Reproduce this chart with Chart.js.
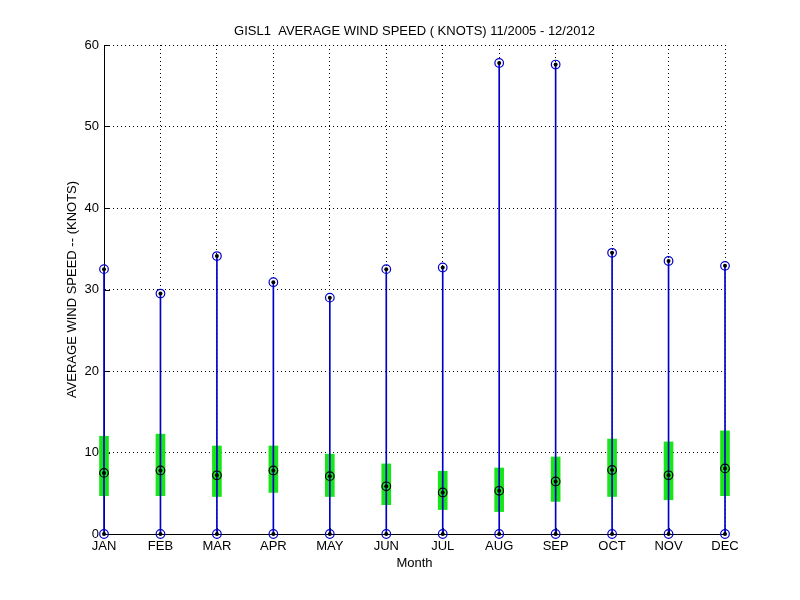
<!DOCTYPE html>
<html>
<head>
<meta charset="utf-8">
<script src="https://cdn.jsdelivr.net/npm/chart.js@4/dist/chart.umd.min.js"></script>
<style>
  body { margin: 0; background: #fff; }
  #wrap { width: 800px; height: 600px; }
</style>
</head>
<body>
<div id="wrap"><canvas id="windChart" width="800" height="600"></canvas></div>
<script>
// データ
const months = ['JAN', 'FEB', 'MAR', 'APR', 'MAY', 'JUN', 'JUL', 'AUG', 'SEP', 'OCT', 'NOV', 'DEC'];
const monthNums = [1, 2, 3, 4, 5, 6, 7, 8, 9, 10, 11, 12];
const maxSpeed = [32.5, 29.5, 34.1, 30.9, 29.0, 32.5, 32.7, 57.8, 57.6, 34.5, 33.5, 32.9];
const minSpeed = [0, 0, 0, 0, 0, 0, 0, 0, 0, 0, 0, 0];
const medianSpeed = [7.5, 7.8, 7.2, 7.8, 7.1, 5.85, 5.1, 5.3, 6.45, 7.85, 7.2, 8.05];
const boxLow = [4.7, 4.7, 4.6, 5.1, 4.6, 3.6, 3.0, 2.75, 4.0, 4.6, 4.2, 4.7];
const boxHigh = [12.0, 12.25, 10.8, 10.8, 9.8, 8.6, 7.7, 8.1, 9.45, 11.65, 11.3, 12.65];
const yTicks = [0, 10, 20, 30, 40, 50, 60];

const fontFamily = 'Arial, "Liberation Sans", sans-serif';
Chart.defaults.font.family = fontFamily;
Chart.defaults.font.size = 13;
Chart.defaults.color = '#000';

const pts = arr => monthNums.map((m, i) => ({x: m, y: arr[i]}));

// MATLAB風の内向き目盛り
const innerTicks = {
    id: 'innerTicks',
    beforeDatasetsDraw(chart) {
        const ctx = chart.ctx;
        const xs = chart.scales.x;
        const ys = chart.scales.y;
        const area = chart.chartArea;
        ctx.save();
        ctx.strokeStyle = '#000';
        ctx.lineWidth = 1;
        ctx.beginPath();
        yTicks.forEach(v => {
            const y = Math.round(ys.getPixelForValue(v)) + 0.5;
            ctx.moveTo(area.left, y);
            ctx.lineTo(area.left + 6, y);
        });
        monthNums.forEach(v => {
            const x = Math.round(xs.getPixelForValue(v)) + 0.5;
            ctx.moveTo(x, area.bottom);
            ctx.lineTo(x, area.bottom - 6);
        });
        ctx.stroke();
        ctx.restore();
    }
};

const ctx = document.getElementById('windChart').getContext('2d');

new Chart(ctx, {
    type: 'bar',
    data: {
        datasets: [
            {
                type: 'bar',
                data: monthNums.map((m, i) => ({x: m, y: [boxLow[i], boxHigh[i]]})),
                backgroundColor: '#19e619',
                barThickness: 9,
                grouped: false,
                clip: false,
                order: 5
            },
            {
                type: 'bar',
                data: monthNums.map((m, i) => ({x: m, y: [minSpeed[i], maxSpeed[i]]})),
                backgroundColor: '#0000c8',
                barThickness: 1,
                grouped: false,
                clip: false,
                order: 4
            },
            {
                type: 'scatter',
                data: pts(maxSpeed).concat(pts(minSpeed)),
                pointStyle: 'circle',
                pointRadius: 4.3,
                borderColor: '#0000c8',
                borderWidth: 1.2,
                backgroundColor: 'rgba(0,0,0,0)',
                clip: false,
                order: 3
            },
            {
                type: 'scatter',
                data: pts(medianSpeed),
                pointStyle: 'circle',
                pointRadius: 4.3,
                borderColor: '#000',
                borderWidth: 1.2,
                backgroundColor: 'rgba(0,0,0,0)',
                clip: false,
                order: 2
            },
            {
                type: 'scatter',
                data: pts(maxSpeed).concat(pts(minSpeed), pts(medianSpeed)),
                pointStyle: 'circle',
                pointRadius: 2,
                borderWidth: 0,
                backgroundColor: '#000',
                clip: false,
                order: 1
            }
        ]
    },
    options: {
        responsive: false,
        animation: false,
        devicePixelRatio: 1,
        layout: {
            padding: {left: 0, right: 75, top: 0, bottom: 0}
        },
        plugins: {
            legend: {display: false},
            tooltip: {enabled: false},
            title: {
                display: true,
                fullSize: false,
                text: 'GISL1  AVERAGE WIND SPEED ( KNOTS) 11/2005 - 12/2012',
                color: '#000',
                font: {size: 13, weight: 'normal', family: fontFamily},
                padding: {top: 23.5, bottom: 5.9}
            }
        },
        scales: {
            x: {
                type: 'linear',
                min: 1,
                max: 12,
                offset: false,
                afterFit: scale => { scale.height = 66; },
                ticks: {
                    stepSize: 1,
                    autoSkip: false,
                    maxRotation: 0,
                    padding: 5,
                    color: '#000',
                    callback: value => months[value - 1]
                },
                grid: {
                    color: '#000',
                    lineWidth: 1,
                    drawTicks: false,
                    offset: false
                },
                border: {display: true, color: '#000', width: 1, dash: [1, 3]},
                title: {
                    display: true,
                    text: 'Month',
                    color: '#000',
                    font: {size: 13, family: fontFamily},
                    padding: {top: 0, bottom: 29}
                }
            },
            y: {
                type: 'linear',
                min: 0,
                max: 60,
                afterFit: scale => { scale.width = 104; },
                ticks: {
                    stepSize: 10,
                    padding: 5,
                    color: '#000'
                },
                grid: {
                    color: '#000',
                    lineWidth: 1,
                    drawTicks: false
                },
                border: {display: true, color: '#000', width: 1, dash: [1, 3]},
                title: {
                    display: true,
                    text: 'AVERAGE WIND SPEED -- (KNOTS)',
                    color: '#000',
                    font: {size: 13, family: fontFamily},
                    padding: {top: 65, bottom: 0}
                }
            }
        }
    },
    plugins: [innerTicks]
});
</script>
</body>
</html>
